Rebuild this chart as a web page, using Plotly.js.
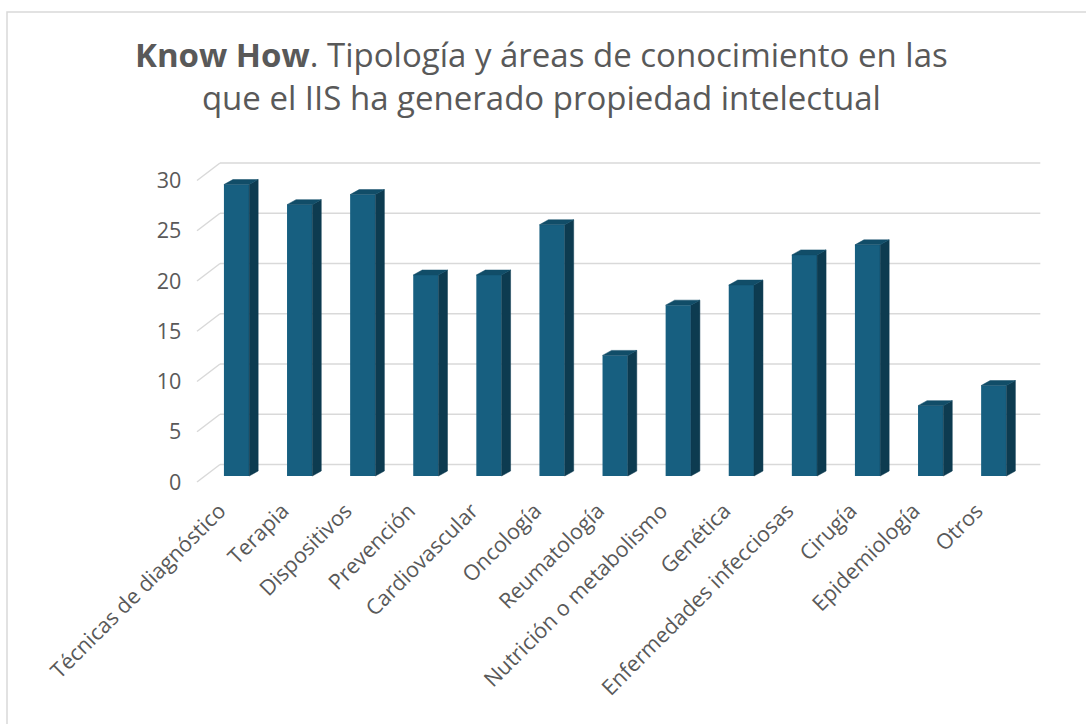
<!DOCTYPE html>
<html>
<head>
<meta charset="utf-8">
<script src="https://cdn.plot.ly/plotly-3.0.1.min.js"></script>
<style>html,body{margin:0;padding:0;background:#fff;}#chart{width:1086px;height:724px;}</style>
</head>
<body>
<div id="chart"></div>
<script>
// ---- Data ----
const categories = ["Técnicas de diagnóstico", "Terapia", "Dispositivos", "Prevención", "Cardiovascular", "Oncología", "Reumatología", "Nutrición o metabolismo", "Genética", "Enfermedades infecciosas", "Cirugía", "Epidemiología", "Otros"];
const values = [29, 27, 28, 20, 20, 25, 12, 17, 19, 22, 23, 7, 9];
const yTicks = [0, 5, 10, 15, 20, 25, 30];
const titleText = "<b>Know How</b>. Tipología y áreas de conocimiento en las<br>que el IIS ha generado propiedad intelectual";

// ---- Geometry / style (pseudo-3D projection) ----
const W = 1086, H = 724;
const PX0 = 205, SX = 63.1;     // pixel of x=-0.5 on the bar plane, px per category
const PY0 = 476, SY = 10.05;    // pixel of y=0 on the bar plane, px per unit
const BAR_W = 0.4;
const FRONT_DX = -8 / SX, FRONT_DY = -6 / SY;
const BACK_DX = 15 / SX, BACK_DY = 11.5 / SY;
const DEPTH_DX = 9 / SX, DEPTH_DY = 5 / SY;
const C_FRONT = "#175f80", C_SIDE = "#0d3b50", C_TOP = "#114d68";
const GRID = "#d9d9d9", TXT = "#595959";
const FONT = "Open Sans, Liberation Sans, sans-serif";

const idx = categories.map((_, i) => i);
const nCat = categories.length;
const xr = [-0.75, nCat - 0.5 + 0.35];
const yr = [-1, 31.5];
const xdom = [(PX0 + (xr[0] + 0.5) * SX) / W, (PX0 + (xr[1] + 0.5) * SX) / W];
const ydom = [1 - (PY0 - yr[0] * SY) / H, 1 - (PY0 - yr[1] * SY) / H];

// side and top faces from the values
const sideX = [], sideY = [], topX = [], topY = [];
values.forEach((v, i) => {
  const xl = i - BAR_W / 2, xrr = i + BAR_W / 2;
  sideX.push(xrr, xrr + DEPTH_DX, xrr + DEPTH_DX, xrr, xrr, null);
  sideY.push(0, DEPTH_DY, v + DEPTH_DY, v, 0, null);
  topX.push(xl, xl + DEPTH_DX, xrr + DEPTH_DX, xrr, xl, null);
  topY.push(v, v + DEPTH_DY, v + DEPTH_DY, v, v, null);
});

const traces = [
  {type: "bar", x: idx, y: values, width: BAR_W, marker: {color: C_FRONT, line: {width: 0}}, hoverinfo: "skip"},
  {type: "scatter", mode: "lines", x: sideX, y: sideY, fill: "toself", fillcolor: C_SIDE, line: {color: C_SIDE, width: 0.5}, hoverinfo: "skip"},
  {type: "scatter", mode: "lines", x: topX, y: topY, fill: "toself", fillcolor: C_TOP, line: {color: C_TOP, width: 0.5}, hoverinfo: "skip"}
];

const shapes = [];
yTicks.forEach(t => {
  shapes.push({type: "line", layer: "below", xref: "x", yref: "y",
    x0: -0.5 + BACK_DX, x1: nCat - 0.5 + BACK_DX, y0: t + BACK_DY, y1: t + BACK_DY,
    line: {color: GRID, width: 1.5}});
  shapes.push({type: "line", layer: "below", xref: "x", yref: "y",
    x0: -0.5 + FRONT_DX, x1: -0.5 + BACK_DX, y0: t + FRONT_DY, y1: t + BACK_DY,
    line: {color: GRID, width: 1.5}});
});
// chart frame
shapes.push({type: "rect", xref: "paper", yref: "paper", x0: 7 / W, x1: 1.02, y0: -0.02, y1: 1 - 12 / H,
  line: {color: GRID, width: 1.5}, fillcolor: "rgba(0,0,0,0)", layer: "below"});

const annotations = [{
  text: titleText, showarrow: false, xref: "paper", yref: "paper", align: "center",
  x: 541 / W, y: 1 - 76 / H, xanchor: "center", yanchor: "middle",
  font: {family: FONT, size: 33, color: TXT}
}];

const layout = {
  width: W, height: H, autosize: false,
  margin: {l: 0, r: 0, t: 0, b: 0, pad: 0},
  paper_bgcolor: "#ffffff", plot_bgcolor: "rgba(0,0,0,0)",
  showlegend: false,
  font: {family: FONT, color: TXT},
  xaxis: {domain: xdom, range: xr, tickmode: "array", tickvals: idx.map(i => i + FRONT_DX), ticktext: categories,
    tickangle: -45, showgrid: false, zeroline: false, showline: false, ticks: "", ticklabelstandoff: 7,
    ticklabelshift: -9,
    tickfont: {family: FONT, size: 21.5, color: TXT}, fixedrange: true},
  yaxis: {domain: ydom, range: yr, tickmode: "array", tickvals: yTicks.map(t => t + FRONT_DY), ticktext: yTicks.map(String),
    showgrid: false, zeroline: false, showline: false, ticks: "", ticklabelstandoff: 7,
    tickfont: {family: FONT, size: 21.5, color: TXT}, fixedrange: true},
  shapes: shapes,
  annotations: annotations
};

Plotly.newPlot("chart", traces, layout, {staticPlot: true, displayModeBar: false});
</script>
</body>
</html>
